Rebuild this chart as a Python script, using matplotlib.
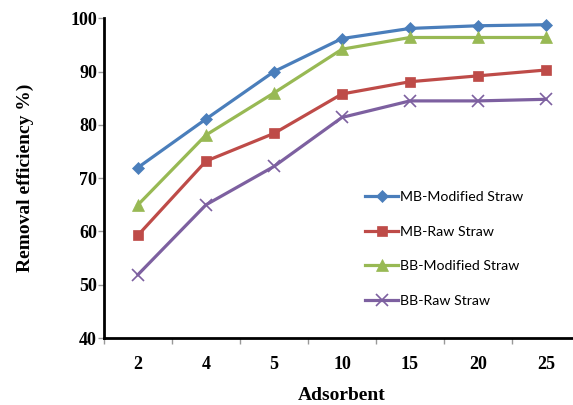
import matplotlib.pyplot as plt
from matplotlib.ticker import FixedLocator

# Adsorbent dose categories and removal efficiencies (%)
doses = ["2", "4", "5", "10", "15", "20", "25"]
mb_modified = [72.0, 81.1, 90.0, 96.2, 98.1, 98.6, 98.8]
mb_raw = [59.3, 73.2, 78.4, 85.8, 88.1, 89.2, 90.3]
bb_modified = [65.0, 78.1, 86.0, 94.2, 96.4, 96.4, 96.4]
bb_raw = [51.9, 65.0, 72.2, 81.4, 84.5, 84.5, 84.8]

series = [
    ("MB-Modified Straw", mb_modified, "#4A7EBB", "D", 6),
    ("MB-Raw Straw", mb_raw, "#BE4B48", "s", 7),
    ("BB-Modified Straw", bb_modified, "#98B954", "^", 8),
    ("BB-Raw Straw", bb_raw, "#7D60A0", "x", 9),
]

fig = plt.figure(figsize=(5.73, 4.05), dpi=100)
ax = fig.add_axes([0.1815, 0.1654, 0.8307, 0.7894])

x = list(range(len(doses)))
for label, vals, color, marker, ms in series:
    ax.plot(x, vals, color=color, linewidth=2.3, marker=marker, markersize=ms,
            markeredgewidth=1.2 if marker == "x" else 0.5, label=label)

ax.set_xlim(-0.5, 6.5)
ax.set_ylim(40, 100)
ax.set_yticks(range(40, 101, 10))
ax.set_xticks(x)
ax.set_xticklabels(doses)
ax.xaxis.set_minor_locator(FixedLocator([i + 0.5 for i in range(-1, 7)]))

for side in ["top", "right"]:
    ax.spines[side].set_visible(False)
for side in ["left", "bottom"]:
    ax.spines[side].set_linewidth(2)
    ax.spines[side].set_color("black")

ax.tick_params(axis="x", which="major", length=0, pad=13)
ax.tick_params(axis="x", which="minor", length=4, width=1, color="#999999")
ax.tick_params(axis="y", length=4, width=1, color="#999999", pad=1)

for lab in ax.get_xticklabels() + ax.get_yticklabels():
    lab.set_fontfamily("Liberation Serif")
    lab.set_fontweight("bold")
    lab.set_fontsize(13)

ax.set_xlabel("Adsorbent", family="Liberation Serif", fontweight="bold",
              fontsize=14, labelpad=10)
ax.set_ylabel("Removal efficiency %)", family="Liberation Serif",
              fontweight="bold", fontsize=14, labelpad=26)

ax.legend(loc="upper left", bbox_to_anchor=(0.537, 0.478), frameon=False,
          prop={"family": "Lato", "size": 10.2}, labelspacing=1.6,
          handlelength=2.3, handletextpad=0.15, borderaxespad=0)

plt.savefig("out.png", dpi=100)
